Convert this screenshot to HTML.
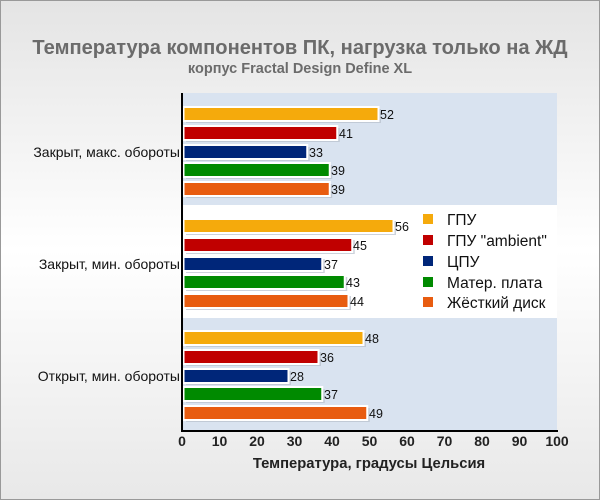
<!DOCTYPE html>
<html><head><meta charset="utf-8"><style>
body{margin:0;width:600px;height:500px;overflow:hidden;background:#fff}
svg{display:block}
text{font-family:"Liberation Sans",Arial,sans-serif}
</style></head><body>
<svg width="600" height="500" viewBox="0 0 600 500">
<defs><linearGradient id="bg" x1="0" y1="0" x2="0" y2="1"><stop offset="0" stop-color="#e4e4e4"/><stop offset="0.5" stop-color="#ffffff"/><stop offset="1" stop-color="#e8e8e8"/></linearGradient></defs>
<rect x="0.5" y="0.5" width="599" height="499" fill="url(#bg)" stroke="#999"/>
<text x="300" y="54" text-anchor="middle" font-size="20.1" font-weight="bold" fill="#6b6b6b">Температура компонентов ПК, нагрузка только на ЖД</text>
<text x="300" y="73" text-anchor="middle" font-size="14.5" font-weight="bold" fill="#6b6b6b">корпус Fractal Design Define XL</text>
<rect x="183" y="93" width="374" height="112" fill="#d9e3f0"/>
<rect x="183" y="205" width="374" height="113" fill="#ffffff"/>
<rect x="183" y="318" width="374" height="113" fill="#d9e3f0"/>
<g font-size="14" fill="#111">
<text x="180" y="157" text-anchor="end">Закрыт, макс. обороты</text>
<text x="180" y="269" text-anchor="end">Закрыт, мин. обороты</text>
<text x="180" y="381" text-anchor="end">Открыт, мин. обороты</text>
</g>
<g fill="#b8c0cc" opacity="0.7">
<rect x="186" y="109" width="195" height="14"/><rect x="186" y="128" width="153.75" height="14"/><rect x="186" y="147" width="123.75" height="14"/><rect x="186" y="165" width="146.25" height="14"/><rect x="186" y="184" width="146.25" height="14"/>
<rect x="186" y="221" width="210" height="14"/><rect x="186" y="240" width="168.75" height="14"/><rect x="186" y="259" width="138.75" height="14"/><rect x="186" y="277" width="161.25" height="14"/><rect x="186" y="296" width="165" height="14"/>
<rect x="186" y="333" width="180" height="14"/><rect x="186" y="352" width="135" height="14"/><rect x="186" y="371" width="105" height="14"/><rect x="186" y="389" width="138.75" height="14"/><rect x="186" y="408" width="183.75" height="14"/>
</g>
<g stroke="#fff" stroke-width="2">
<rect x="183.5" y="107" width="195" height="14" fill="#f5aa0c"/>
<rect x="183.5" y="126" width="153.75" height="14" fill="#c00000"/>
<rect x="183.5" y="145" width="123.75" height="14" fill="#002679"/>
<rect x="183.5" y="163" width="146.25" height="14" fill="#008a00"/>
<rect x="183.5" y="182" width="146.25" height="14" fill="#e85c10"/>
<rect x="183.5" y="219" width="210" height="14" fill="#f5aa0c"/>
<rect x="183.5" y="238" width="168.75" height="14" fill="#c00000"/>
<rect x="183.5" y="257" width="138.75" height="14" fill="#002679"/>
<rect x="183.5" y="275" width="161.25" height="14" fill="#008a00"/>
<rect x="183.5" y="294" width="165" height="14" fill="#e85c10"/>
<rect x="183.5" y="331" width="180" height="14" fill="#f5aa0c"/>
<rect x="183.5" y="350" width="135" height="14" fill="#c00000"/>
<rect x="183.5" y="369" width="105" height="14" fill="#002679"/>
<rect x="183.5" y="387" width="138.75" height="14" fill="#008a00"/>
<rect x="183.5" y="406" width="183.75" height="14" fill="#e85c10"/>
</g>
<g font-size="12.5" fill="#111">
<text x="380" y="119">52</text><text x="339" y="138">41</text><text x="309" y="157">33</text><text x="331" y="175">39</text><text x="331" y="194">39</text>
<text x="395" y="231">56</text><text x="353" y="250">45</text><text x="324" y="269">37</text><text x="346" y="287">43</text><text x="350" y="306">44</text>
<text x="365" y="343">48</text><text x="320" y="362">36</text><text x="290" y="381">28</text><text x="324" y="399">37</text><text x="369" y="418">49</text>
</g>
<line x1="182" y1="93" x2="182" y2="432" stroke="#000" stroke-width="2"/>
<line x1="181" y1="431" x2="558" y2="431" stroke="#000" stroke-width="2"/>
<g font-size="14" font-weight="bold" fill="#222" text-anchor="middle">
<text x="182" y="446">0</text><text x="219.5" y="446">10</text><text x="257" y="446">20</text><text x="294.5" y="446">30</text><text x="332" y="446">40</text><text x="369.5" y="446">50</text><text x="407" y="446">60</text><text x="444.5" y="446">70</text><text x="482" y="446">80</text><text x="519.5" y="446">90</text><text x="557" y="446">100</text>
</g>
<text x="369" y="468" text-anchor="middle" font-size="14.8" font-weight="bold" fill="#222">Температура, градусы Цельсия</text>
<g font-size="15.5" fill="#111">
<rect x="423" y="214" width="10" height="10" fill="#f5aa0c"/><text x="447" y="225">ГПУ</text>
<rect x="423" y="235" width="10" height="10" fill="#c00000"/><text x="447" y="246">ГПУ "ambient"</text>
<rect x="423" y="256" width="10" height="10" fill="#002679"/><text x="447" y="267">ЦПУ</text>
<rect x="423" y="277" width="10" height="10" fill="#008a00"/><text x="447" y="288">Матер. плата</text>
<rect x="423" y="297" width="10" height="10" fill="#e85c10"/><text x="447" y="308">Жёсткий диск</text>
</g>
</svg>
</body></html>
